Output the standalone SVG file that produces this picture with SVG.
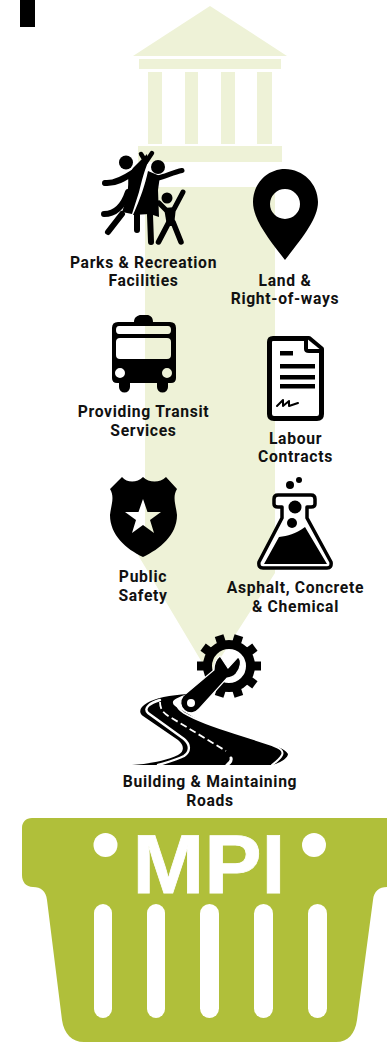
<svg xmlns="http://www.w3.org/2000/svg" width="387" height="1042" viewBox="0 0 387 1042">
<style>
text{font-family:Roboto,"Noto Sans","Liberation Sans",sans-serif;font-weight:700;font-size:15.7px;letter-spacing:.68px;fill:#111;text-anchor:middle}
.pale{fill:#eef2d7}
.k{fill:#000}
.l{fill:none;stroke:#000;stroke-linecap:round;stroke-linejoin:round}
.w{fill:none;stroke:#fff;stroke-linecap:round;stroke-linejoin:round}
.g{fill:#b0bf3a}
</style>
<rect width="387" height="1042" fill="#fff"/>
<rect x="20" y="0" width="15" height="27" fill="#000"/>
<g id="government">
<path class="pale" d="M210 6 L287 56 H133 Z"/>
<rect class="pale" x="139" y="59" width="142" height="10"/>
<rect class="pale" x="148" y="72" width="14" height="72"/>
<rect class="pale" x="185" y="72" width="13" height="72"/>
<rect class="pale" x="221" y="72" width="14" height="72"/>
<rect class="pale" x="257" y="72" width="15" height="72"/>
<rect class="pale" x="138" y="146" width="144" height="16"/>
</g>
<g id="connectors">
<path class="pale" d="M145 187 H275 V573 L209.500 675 L138 555 H145 Z"/>
</g>
<g id="parks">
<circle class="k" cx="126" cy="162.500" r="7"/>
<circle class="k" cx="158" cy="167" r="7"/>
<circle class="k" cx="167" cy="198" r="5.500"/>
<path class="l" stroke-width="6" d="M105 183 C115 184 125 178 134 172"/>
<path class="l" stroke-width="6" d="M104 214 C117 214 124 204 128 192"/>
<path class="l" stroke-width="6" d="M108 232 L122 214"/>
<path class="k" d="M133 168 L141 160 L147 154 L148 162 C144 172 142 180 139 192 L132 214 L122 212 C127 198 129 188 128 176 Z"/>
<path class="l" stroke-width="4.500" d="M141 154 L146 162 L152 153"/>
<path class="k" d="M148 171 L160 176 L158 190 L159 217 L150 214 L133 215 C141 197 145 185 148 171 Z"/>
<path class="l" stroke-width="5" d="M158 178 C166 176 174 172 182 170.500"/>
<path class="l" stroke-width="6" d="M137 215 V230 M150 215 L151 242"/>
<path class="l" stroke-width="5" d="M159 203 L166 210 M183 192 L174 209"/>
<path class="k" d="M164 208 L176 207 L174 226 L167 226 Z"/>
<path class="l" stroke-width="5.500" d="M169 222 L158.500 242 M173 222 L181 242"/>
<text x="143.500" y="267.500">Parks &amp; Recreation</text>
<text x="143.500" y="286">Facilities</text>
</g>
<g id="land">
<path class="k" fill-rule="evenodd" d="M285 169 C303 169 318 184 318 202 C318 219 302 238 285 260 C268 238 253 219 253 202 C253 184 267 169 285 169 Z M285 189 A15 15 0 1 0 285 219 A15 15 0 1 0 285 189 Z"/>
<text x="285" y="285.500">Land &amp;</text>
<text x="285" y="304">Right-of-ways</text>
</g>
<g id="transit">
<path class="k" fill-rule="evenodd" d="M134 322 C134 317 138 315 141 315 H147 C150 315 153 317 153 322 H170 Q176 322 176 328 V378 Q176 383 171 383 H168 V387 A5.500 5.500 0 0 1 157 387 V383 H130 V387 A5.500 5.500 0 0 1 119 387 V383 H117 Q112 383 112 378 V328 Q112 322 118 322 Z M119 326 Q116 326 116 330 Q116 334 119 334 H168 Q171 334 171 330 Q171 326 168 326 Z M120 338 Q116 338 116 342 V355 Q116 359 120 359 H167 Q171 359 171 355 V342 Q171 338 167 338 Z M120 368 A5 5 0 1 0 120 378 A5 5 0 1 0 120 368 Z M167 368 A5 5 0 1 0 167 378 A5 5 0 1 0 167 368 Z"/>
<text x="143.500" y="417">Providing Transit</text>
<text x="143.500" y="435.500">Services</text>
</g>
<g id="labour">
<path fill="#fff" stroke="#000" stroke-width="5" stroke-linejoin="round" d="M273 338.500 H309 L321.500 349 V414 Q321.500 418.500 317 418.500 H274 Q269.500 418.500 269.500 414 V342 Q269.500 338.500 273 338.500 Z"/>
<path fill="#fff" stroke="#000" stroke-width="4" d="M306 338 V349 Q306 351 309 351 H322"/>
<rect class="k" x="280" y="351" width="13" height="4.500"/>
<rect class="k" x="280" y="364" width="35" height="4.500"/>
<rect class="k" x="280" y="375" width="35" height="4.500"/>
<rect class="k" x="280" y="384" width="35" height="4.500"/>
<path class="l" stroke-width="2" d="M277 406 L283 400 L283 406 L289 401 L289 406 L298 403"/>
<text x="295.500" y="443.500">Labour</text>
<text x="295.500" y="462">Contracts</text>
</g>
<g id="safety">
<path class="k" fill-rule="evenodd" d="M122 477 C127 483 137 483 143 477 C149 483 160 483 166 477 L177 489 C172 497 176 505 177 515 C177 535 160 549 143 557 C126 549 110 535 110 515 C111 505 115 497 110 489 Z M143 499 L147.500 512 L161 512 L150 520 L154 533 L143 525 L132 533 L136 520 L125 512 L138.500 512 Z"/>
<text x="143" y="582">Public</text>
<text x="143" y="600.500">Safety</text>
</g>
<g id="chemical">
<path fill="#fff" stroke="#000" stroke-width="3.500" stroke-linejoin="round" d="M278 495 H311 Q315 495 315 499 V504 Q315 507 311 507 H307 V518 L331 562 Q332 568 327 568 H263 Q258 568 259 562 L282 518 V507 H278 Q274 507 274 504 V499 Q274 495 278 495 Z"/>
<path class="k" d="M264 564 L279 537 C288 536 295 534 305 527 L327 564 Z"/>
<circle class="k" cx="299" cy="480" r="3"/>
<circle class="k" cx="290" cy="485" r="4"/>
<circle class="k" cx="295" cy="507" r="6.500"/>
<circle class="k" cx="292" cy="523" r="5"/>
<text x="295.500" y="592.500">Asphalt, Concrete</text>
<text x="295.500" y="611.500">&amp; Chemical</text>
</g>
<g id="roads">
<circle cx="229" cy="666" r="21.500" fill="none" stroke="#000" stroke-width="9"/>
<g class="k">
<rect x="224.500" y="634" width="9" height="10" transform="rotate(18 229 666)"/>
<rect x="224.500" y="634" width="9" height="10" transform="rotate(54 229 666)"/>
<rect x="224.500" y="634" width="9" height="10" transform="rotate(90 229 666)"/>
<rect x="224.500" y="634" width="9" height="10" transform="rotate(126 229 666)"/>
<rect x="224.500" y="634" width="9" height="10" transform="rotate(162 229 666)"/>
<rect x="224.500" y="634" width="9" height="10" transform="rotate(198 229 666)"/>
<rect x="224.500" y="634" width="9" height="10" transform="rotate(234 229 666)"/>
<rect x="224.500" y="634" width="9" height="10" transform="rotate(270 229 666)"/>
<rect x="224.500" y="634" width="9" height="10" transform="rotate(306 229 666)"/>
<rect x="224.500" y="634" width="9" height="10" transform="rotate(342 229 666)"/>
</g>
<path class="k" stroke="#fff" stroke-width="1.200" d="M220 656 L228 668 L238 657 C242 660 241 668 236 674 C233 677 230 678 227 678 L199 709 A9 9 0 0 1 183 696 L214 670 C214 664 216 659 220 656 Z"/>
<circle cx="191" cy="703" r="4" fill="#fff"/>
<path class="k" d="M188 694 C170 695 155 698 147 703 C140 707 138 712 143 716 L178 740 C184 745 185 751 178 755 C165 761 148 764 132 765 H272 C280 763 288 758 288 754 C285 749 278 747 270 744 L225 730 C210 725 197 720 190 715 C180 709 173 706 173 703 C172 700 178 697 188 694 Z"/>
<path class="w" stroke-width="2.400" d="M160 700 C150 703 143 708 148 713 L184 739 C191 745 190 752 184 756 C176 760 168 762 158 765"/>
<path class="w" stroke-width="2" d="M177 702 C176 706 178 709 184 713 C196 720 215 727 235 733 L272 745 C280 748 284 751 282 755 C280 759 276 762 272 765"/>
<path fill="none" stroke="#fff" stroke-width="1.800" stroke-dasharray="7 3.500" d="M160 702 C160 709 163 713 170 717 L226 751"/>
<path class="w" stroke-width="3" d="M231 758 C232 761 230 763 227 765"/>
<text x="210" y="787">Building &amp; Maintaining</text>
<text x="210" y="805.500">Roads</text>
</g>
<g id="mpi">
<path class="g" d="M32 818 H387 V887 C379 887 374 891 373 900 L357 1020 C355 1034 348 1042 336 1042 H84 C72 1042 64 1034 62 1020 L47 900 C46 891 41 887 33 887 C26 887 22 882 22 875 V828 C22 822 26 818 32 818 Z"/>
<circle cx="105.500" cy="845" r="12" fill="#fff"/>
<circle cx="314" cy="845" r="12" fill="#fff"/>
<rect x="94" y="904" width="18" height="114" rx="9" fill="#fff"/>
<rect x="147" y="904" width="18" height="114" rx="9" fill="#fff"/>
<rect x="200" y="904" width="19" height="114" rx="9.500" fill="#fff"/>
<rect x="254" y="904" width="19" height="114" rx="9.500" fill="#fff"/>
<rect x="308" y="904" width="19" height="114" rx="9.500" fill="#fff"/>
<text x="209" y="893" textLength="153" lengthAdjust="spacingAndGlyphs" style="font-family:'Liberation Sans',Arial,sans-serif;font-size:84px;letter-spacing:0;fill:#fff;stroke:#fff;stroke-width:0.8">MPI</text>
</g>
</svg>
